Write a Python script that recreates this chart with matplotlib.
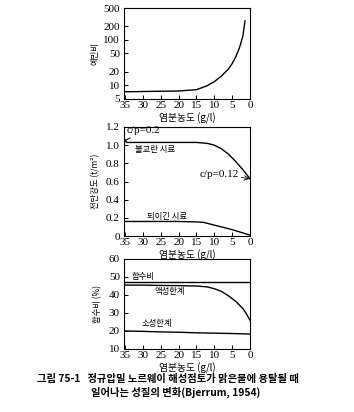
import matplotlib
matplotlib.use("Agg")
import matplotlib.pyplot as plt
import numpy as np

plt.rcParams['font.family'] = ['Liberation Serif', 'Noto Sans CJK KR']

# Data
sens_x = [35, 30, 25, 20, 15, 12, 10, 8, 6, 5, 4, 3, 2, 1.4]
sens_y = [7.2, 7.3, 7.4, 7.5, 8.0, 9.8, 12, 16, 23, 30, 42, 65, 120, 260]

und_x = [35, 34.6, 30, 25, 20, 15, 12, 10, 8, 6, 4, 2, 0]
und_y = [1.06, 1.03, 1.03, 1.03, 1.03, 1.03, 1.02, 1.0, 0.96, 0.9, 0.82, 0.73, 0.63]
rem_x = [35, 30, 25, 20, 15, 13, 10, 5, 0]
rem_y = [0.16, 0.16, 0.16, 0.16, 0.155, 0.15, 0.12, 0.07, 0.01]

wc_x = [35, 0]
wc_y = [47, 47]
ll_x = [35, 30, 25, 20, 15, 12, 10, 8, 6, 4, 2, 1, 0]
ll_y = [45.5, 45.5, 45.3, 45.2, 45.0, 44.5, 43.5, 42, 39.5, 36.5, 32.5, 29.5, 26]
pl_x = [35, 30, 25, 20, 15, 10, 5, 0]
pl_y = [20, 19.8, 19.5, 19.3, 19.0, 18.8, 18.6, 18.3]

xticks = [35, 30, 25, 20, 15, 10, 5, 0]
sens_ticks = [5, 10, 20, 50, 100, 200, 500]
shear_ticks = [0, 0.2, 0.4, 0.6, 0.8, 1.0, 1.2]
shear_labels = ['0', '0.2', '0.4', '0.6', '0.8', '1.0', '1.2']
wc_ticks = [10, 20, 30, 40, 50, 60]

xlabel = '염분농도 (g/l)'
kr = ['Noto Sans CJK KR', 'Liberation Serif']

fig = plt.figure(figsize=(3.54, 4.12), dpi=100)
W, H = 354, 412

def mk(top, bottom):
    return fig.add_axes([124 / W, 1 - bottom / H, 126 / W, (bottom - top) / H])

ax1 = mk(8, 99)
ax2 = mk(127, 236)
ax3 = mk(259, 349)

for ax in (ax1, ax2, ax3):
    ax.set_xlim(35.3, 0)
    ax.set_xticks(xticks)
    ax.tick_params(direction='in', length=3, width=0.7, labelsize=8)
    ax.tick_params(axis='x', pad=1.5)
    ax.tick_params(axis='y', pad=3)
    for s in ax.spines.values():
        s.set_linewidth(0.8)
    ax.set_xlabel(xlabel, family=kr, fontsize=7, labelpad=2)

# Top: sensitivity
ax1.plot(sens_x, sens_y, color='black', lw=1.0)
ax1.set_yscale('log')
ax1.set_ylim(5, 500)
ax1.set_yticks(sens_ticks)
ax1.set_yticklabels([str(t) for t in sens_ticks])
ax1.yaxis.set_minor_locator(matplotlib.ticker.NullLocator())
ax1.set_ylabel('예민비', family=kr, fontsize=6, labelpad=3)

# Middle: shear strength
ax2.plot(und_x, und_y, color='black', lw=1.0)
ax2.plot(rem_x, rem_y, color='black', lw=1.0)
ax2.set_ylim(0, 1.2)
ax2.set_yticks(shear_ticks)
ax2.set_yticklabels(shear_labels)
ax2.set_ylabel('전단강도 (t/m²)', family=kr, fontsize=6, labelpad=4)
ax2.text(26.6, 0.95, '불교란 시료', family=kr, fontsize=6, ha='center', va='center')
ax2.text(23.2, 0.22, '되이긴 시료', family=kr, fontsize=6, ha='center', va='center')
ax2.annotate('c/p=0.2', xy=(35, 1.05), xytext=(34.6, 1.16), fontsize=8,
             ha='left', va='center',
             arrowprops=dict(arrowstyle='-', lw=0.7, color='black', shrinkA=0, shrinkB=0))
ax2.annotate('c/p=0.12', xy=(0.1, 0.63), xytext=(3.2, 0.68), fontsize=8,
             ha='right', va='center',
             arrowprops=dict(arrowstyle='->', lw=0.6, color='black', shrinkA=0, shrinkB=0))

# Bottom: water content
ax3.plot(wc_x, wc_y, color='black', lw=1.0)
ax3.plot(ll_x, ll_y, color='black', lw=1.0)
ax3.plot(pl_x, pl_y, color='black', lw=1.0)
ax3.set_ylim(10, 60)
ax3.set_yticks(wc_ticks)
ax3.set_ylabel('함수비 (%)', family=kr, fontsize=6, labelpad=5)
ax3.text(30, 50, '함수비', family=kr, fontsize=6, ha='center', va='center')
ax3.text(22.4, 41.7, '액성한계', family=kr, fontsize=6, ha='center', va='center')
ax3.text(26, 24.4, '소성한계', family=kr, fontsize=6, ha='center', va='center')

fig.text(37 / W, 1 - 379 / H, '그림 75-1   정규압밀 노르웨이 해성점토가 맑은물에 용탈될 때',
         family=kr, fontsize=7.4, fontweight='bold', ha='left', va='center')
fig.text(176 / W, 1 - 392 / H, '일어나는 성질의 변화(Bjerrum, 1954)',
         family=kr, fontsize=7.4, fontweight='bold', ha='center', va='center')

fig.savefig('out.png', dpi=100, facecolor='white')
